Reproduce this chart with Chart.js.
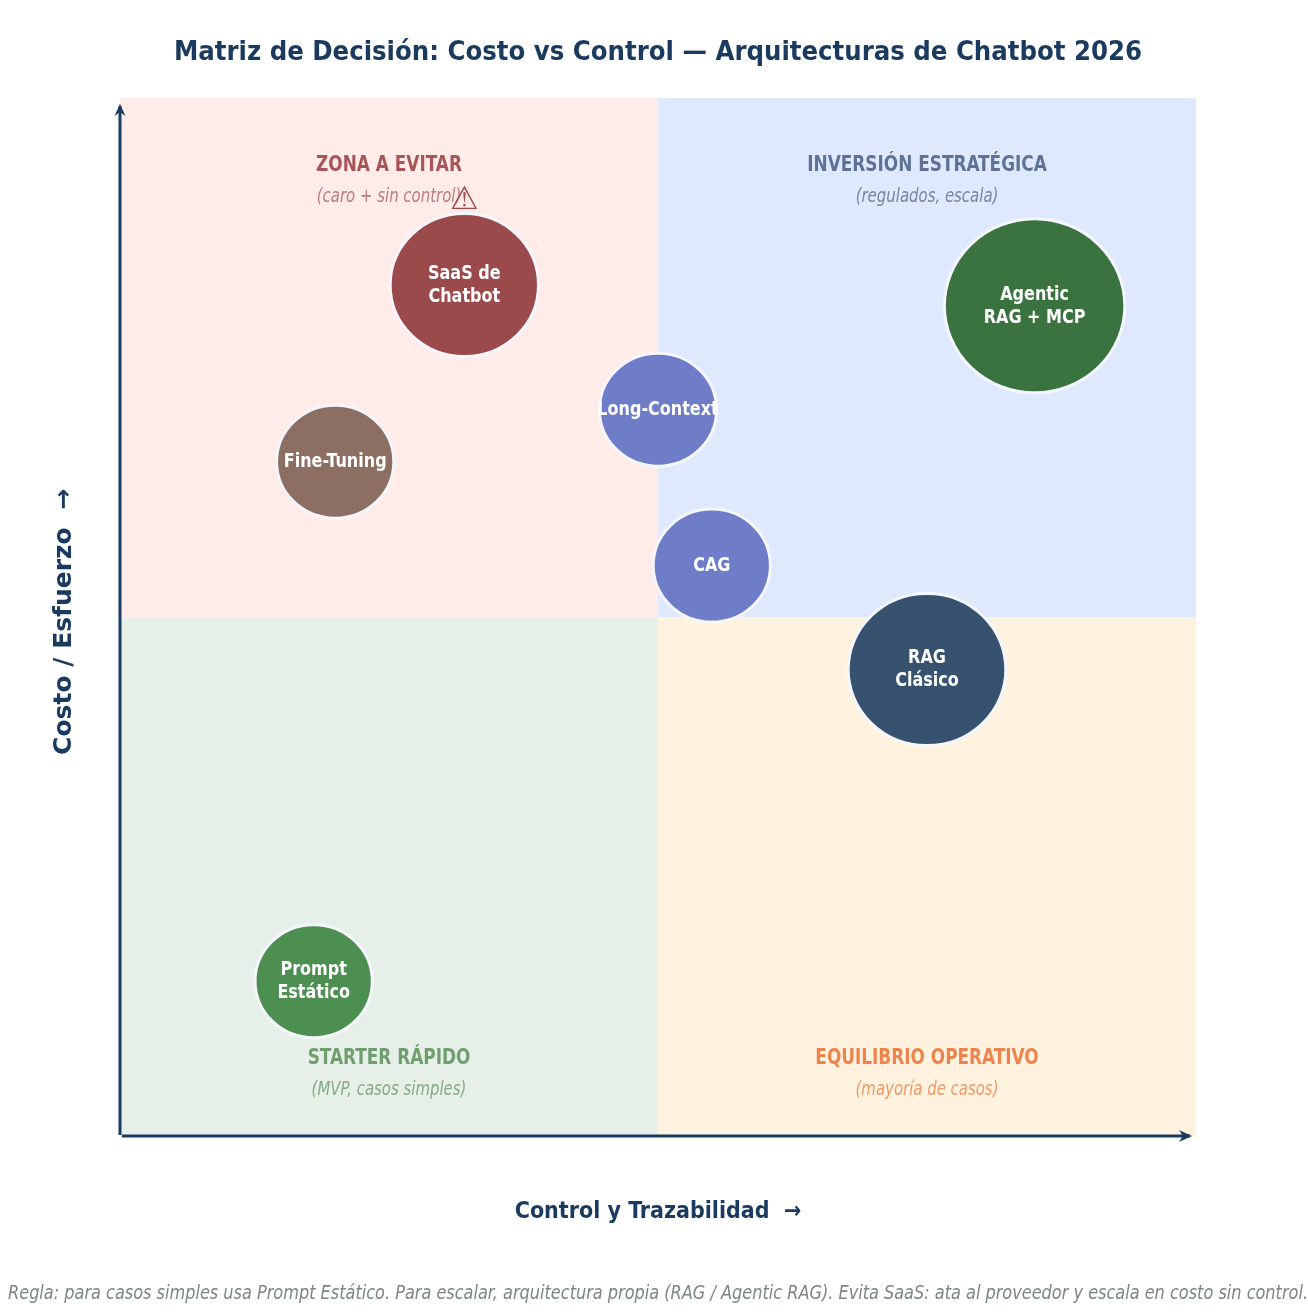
<!DOCTYPE html>
<html><head><meta charset="utf-8">
<style>html,body{margin:0;padding:0;background:#fff}canvas{display:block}</style>
<script src="https://cdn.jsdelivr.net/npm/chart.js@4"></script>
</head><body><canvas id="c" width="1308" height="1316"></canvas>
<script>
const names=[["SaaS de","Chatbot"],["Agentic","RAG + MCP"],["Long-Context"],["Fine-Tuning"],["CAG"],["RAG","Clásico"],["Prompt","Estático"]];
const control=[3.2,8.5,5.0,2.0,5.5,7.5,1.8];
const costo=[8.2,8.0,7.0,6.5,5.5,4.5,1.5];
const sizes=[71.5,87,56.5,56.5,56.5,76,56.5];
const colors=["#9b4a4b","#3a7340","#6f7cc8","#8d6e63","#6f7cc8","#37526f","#4d8f50"];
const quadX=[[0,5],[5,10],[0,5],[5,10]];
const quadY=[[5,10],[5,10],[0,5],[0,5]];
const quadFill=["#ffebe8","#dfe9fe","#e6efe8","#fff2df"];
const quadTitle=["ZONA A EVITAR","INVERSIÓN ESTRATÉGICA","STARTER RÁPIDO","EQUILIBRIO OPERATIVO"];
const quadSub=["(caro + sin control)","(regulados, escala)","(MVP, casos simples)","(mayoría de casos)"];
const quadTitleColor=["#a85559","#5f7196","#6f9f6f","#f0834c"];
const quadSubColor=["#bb7d7d","#7685a5","#86ab8a","#f09a68"];
const titleY=[9.352,9.352,0.75,0.75];
const subY=[9.043,9.043,0.448,0.448];
const labelX=[2.5,7.5,2.5,7.5];
const COND='"DejaVu Sans Condensed","DejaVu Sans"';
const navy="#1a3a5f";
function squeezed(c,s,x,y,k){c.save();c.translate(x,y);c.scale(k,1);c.fillText(s,0,0);c.restore();}
Chart.PointElement.prototype.draw=function(ctx){
  const o=this.options;
  ctx.save();ctx.beginPath();
  ctx.ellipse(this.x,this.y,o.radius*1.037,o.radius,0,0,Math.PI*2);
  ctx.fillStyle=o.backgroundColor;ctx.fill();
  ctx.lineWidth=o.borderWidth;ctx.strokeStyle=o.borderColor;ctx.stroke();
  ctx.restore();
};
const decor={id:"decor",
 beforeDatasetsDraw(ch){
  const c=ch.ctx,x=ch.scales.x,y=ch.scales.y;
  c.save();
  quadFill.forEach((f,i)=>{
    const l=x.getPixelForValue(quadX[i][0]),r=x.getPixelForValue(quadX[i][1]);
    const t=y.getPixelForValue(quadY[i][1]),b=y.getPixelForValue(quadY[i][0]);
    c.fillStyle=f;c.fillRect(l,t,r-l,b-t);
  });
  c.textAlign="center";c.textBaseline="middle";
  quadTitle.forEach((s,i)=>{
    c.fillStyle=quadTitleColor[i];c.font='bold 20.4px '+COND;
    squeezed(c,s,x.getPixelForValue(labelX[i]),y.getPixelForValue(titleY[i]),18.8/20.4);
    c.fillStyle=quadSubColor[i];c.font='italic 18.6px '+COND;
    squeezed(c,quadSub[i],x.getPixelForValue(labelX[i]),y.getPixelForValue(subY[i]),16.6/18.6);
  });
  const L=x.left,B=y.bottom,R=x.right,T=y.top;
  c.strokeStyle=navy;c.fillStyle=navy;c.lineWidth=3;c.lineCap="butt";c.lineJoin="round";
  c.beginPath();c.moveTo(L,B-2);c.lineTo(L,T+8);c.stroke();
  c.beginPath();c.moveTo(L-5.5,T+18);c.lineTo(L,T+6);c.lineTo(L+5.5,T+18);c.lineTo(L,T+14);c.closePath();c.fill();
  c.beginPath();c.moveTo(L+2,B-1);c.lineTo(R-6,B-1);c.stroke();
  c.beginPath();c.moveTo(R-17,B-7);c.lineTo(R-4,B-1);c.lineTo(R-17,B+5);c.lineTo(R-13,B-1);c.closePath();c.fill();
  c.restore();
 },
 afterDatasetsDraw(ch){
  const c=ch.ctx,pts=ch.getDatasetMeta(0).data;
  c.save();c.textAlign="center";c.textBaseline="middle";c.fillStyle="#fff";c.font='bold 19px '+COND;
  pts.forEach((p,i)=>{
    const n=names[i];
    n.forEach((s,j)=>squeezed(c,s,p.x,p.y+0.5+(j-(n.length-1)/2)*23,17.8/19));
  });
  const s=pts[0];
  c.fillStyle=colors[0];c.font='32px "DejaVu Sans"';
  c.fillText("⚠",s.x,s.y-84);
  c.restore();
 }};
new Chart(document.getElementById("c"),{
 type:"bubble",
 data:{datasets:[{data:control.map((v,i)=>({x:v,y:costo[i],r:sizes[i]})),backgroundColor:colors,borderColor:"#f4f6fb",borderWidth:3,clip:false}]},
 options:{responsive:false,animation:false,
  layout:{padding:{left:8}},
  plugins:{legend:{display:false},tooltip:{enabled:false},
   title:{display:true,text:"Matriz de Decisión: Costo vs Control — Arquitecturas de Chatbot 2026",color:navy,font:{family:COND,size:27.2,weight:"bold"},padding:{top:37,bottom:28.4}},
   subtitle:{display:true,position:"bottom",text:"Regla: para casos simples usa Prompt Estático. Para escalar, arquitectura propia (RAG / Agentic RAG). Evita SaaS: ata al proveedor y escala en costo sin control.",color:"#7d8587",font:{family:COND,size:20.07,style:"italic"},padding:{top:8,bottom:10}}},
  scales:{
   x:{min:0,max:10,grid:{display:false},border:{display:false},ticks:{display:false},
      afterFit(s){s.height=136.9},
      title:{display:true,text:"Control y Trazabilidad  →",color:navy,font:{family:COND,size:23,weight:"bold"},padding:{top:0,bottom:48.1}}},
   y:{min:0,max:10,grid:{display:false},border:{display:false},ticks:{display:false},
      afterFit(s){s.width=112},
      title:{display:true,text:"Costo / Esfuerzo  → ",color:navy,font:{family:'"DejaVu Sans"',size:25,weight:"bold"},padding:{top:41,bottom:0}}},
   right:{position:"right",min:0,max:10,grid:{display:false},border:{display:false},ticks:{display:false},afterFit(s){s.width=112}}
  }},
 plugins:[decor]});
</script></body></html>
